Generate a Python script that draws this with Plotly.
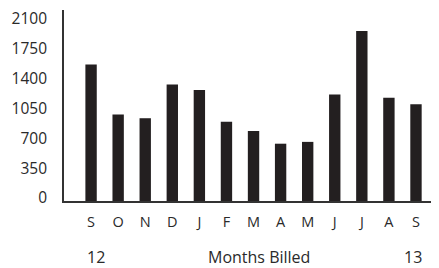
import plotly.graph_objects as go

months = ["S", "O", "N", "D", "J", "F", "M", "A", "M", "J", "J", "A", "S"]
usage = [1500, 950, 910, 1280, 1220, 870, 770, 630, 650, 1170, 1870, 1135, 1065]
y_ticks = [0, 350, 700, 1050, 1400, 1750, 2100]
year_start = "12"
year_end = "13"
x_title = "Months Billed"

x_idx = list(range(len(months)))
FONT = "Open Sans"
TXT = "#2a2a2a"

# page body has an 8px default margin, so the figure is sized to fit the window
W, H = 431, 260
ML, MR, MT, MB = 56, 0, 2, 67
plot_h = H - MT - MB

fig = go.Figure(go.Bar(
    x=x_idx, y=usage, width=0.42,
    marker=dict(color="#231f20", line=dict(width=0)),
))
# invisible helper trace on the label axis (the printed labels sit slightly
# compressed relative to the bar scale, as in the source figure)
fig.add_trace(go.Scatter(x=[x_idx[0]], y=[y_ticks[0]], yaxis="y2",
                         mode="markers", marker=dict(opacity=0),
                         hoverinfo="skip", showlegend=False))

fig.update_layout(
    width=W, height=H,
    margin=dict(l=ML, r=MR, t=MT, b=MB, autoexpand=False),
    paper_bgcolor="white", plot_bgcolor="white",
    showlegend=False,
    font=dict(family=FONT, size=14, color=TXT),
    xaxis=dict(
        range=[-1, 12.85], tickvals=x_idx, ticktext=months,
        showgrid=False, zeroline=False, automargin=False,
        showline=True, linecolor="#333", linewidth=2,
        ticks="", ticklabelstandoff=7,
        tickfont=dict(family=FONT, size=14.5, color=TXT),
    ),
    yaxis=dict(
        range=[0, 2100], showticklabels=False,
        showgrid=False, zeroline=False, automargin=False,
        showline=True, linecolor="#333", linewidth=2, ticks="",
    ),
    yaxis2=dict(
        overlaying="y", side="left", anchor="x",
        range=[-35.2, 2205.6], tickvals=y_ticks,
        showgrid=False, zeroline=False, automargin=False,
        showline=False, ticks="", ticklabelstandoff=16,
        ticklabeloverflow="allow",
        tickfont=dict(family=FONT, size=15.5, color=TXT),
    ),
)

ann_y = -56 / plot_h
for txt, xv in [(year_start, 0.2), (x_title, 6.2), (year_end, 11.9)]:
    fig.add_annotation(
        x=xv, xref="x", y=ann_y, yref="paper", yanchor="middle",
        text=txt, showarrow=False,
        font=dict(family=FONT, size=16, color=TXT),
    )

fig.write_html("out.html")
